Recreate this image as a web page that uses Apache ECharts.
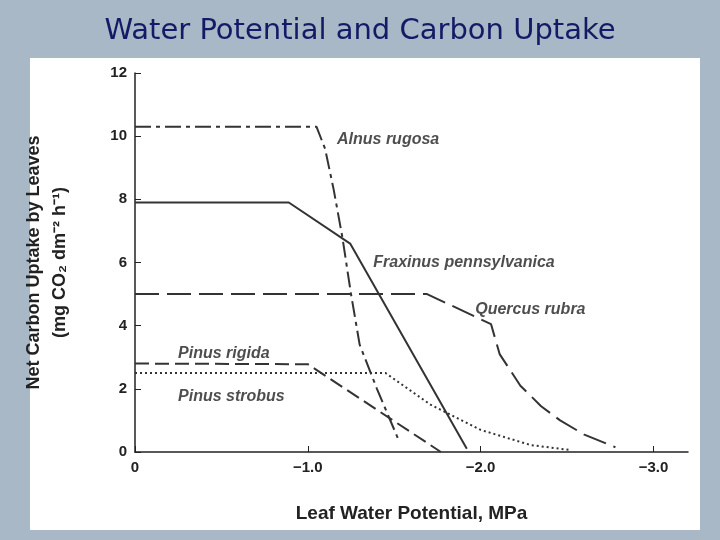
<!DOCTYPE html>
<html><head><meta charset="utf-8">
<script src="https://cdn.jsdelivr.net/npm/echarts@6/dist/echarts.min.js"></script>
<style>html,body{margin:0;padding:0;background:#a8b8c6}#c{width:720px;height:540px}</style>
</head><body><div id="c"></div>
<script>
const xTicks = [0, 1, 2, 3];
const xTickLabels = ['0', '\u22121.0', '\u22122.0', '\u22123.0'];
const alnus = [[0,10.3],[1.05,10.3],[1.1,9.6],[1.15,8.3],[1.2,6.8],[1.25,5.0],[1.3,3.4],[1.4,2.0],[1.52,0.45]];
const fraxinus = [[0,7.9],[0.89,7.9],[1.245,6.6],[1.92,0.1]];
const quercus = [[0,5.0],[1.69,5.0],[2.06,4.05],[2.11,3.1],[2.23,2.1],[2.35,1.45],[2.46,1.0],[2.6,0.55],[2.78,0.15]];
const rigida = [[0,2.8],[1.0,2.78],[1.77,0.0]];
const strobus = [[0,2.5],[1.45,2.5],[1.71,1.5],[2.0,0.7],[2.29,0.22],[2.52,0.06]];
const labelTexts = ['Alnus rugosa','Fraxinus pennsylvanica','Quercus rubra','Pinus rigida','Pinus strobus'];
const labelPos = [[1.14,9.9],[1.35,6.0],[1.94,4.5],[0.22,3.1],[0.22,1.75]];

const c = echarts.init(document.getElementById('c'));
const ls = (type, dash) => ({color:'#333', width:2, type: dash || type});
c.setOption({
  backgroundColor:'#a8b8c6',
  title:{text:'Water Potential and Carbon Uptake', left:'center', top:12,
    textStyle:{fontFamily:'DejaVu Sans', fontWeight:'normal', fontSize:29, color:'#141a66'}},
  graphic:[{type:'rect', z:-1, shape:{x:30,y:58,width:670,height:472}, style:{fill:'#fff'}}],
  grid:{left:135, right:32, top:73, bottom:88},
  xAxis:{type:'value', min:0, max:3.2, interval:1,
    axisLine:{lineStyle:{color:'#222', width:1.5}}, axisTick:{inside:true, length:6, lineStyle:{color:'#222'}},
    splitLine:{show:false},
    axisLabel:{color:'#222', fontWeight:'bold', fontSize:15, fontFamily:'Liberation Sans', showMaxLabel:false,
      formatter:v=>{const i=xTicks.indexOf(v); return i>=0?xTickLabels[i]:'';}},
    name:'Leaf Water Potential, MPa', nameLocation:'middle', nameGap:52,
    nameTextStyle:{color:'#222', fontWeight:'bold', fontSize:19, fontFamily:'Liberation Sans'}},
  yAxis:{type:'value', min:0, max:12, interval:2,
    axisLine:{show:true, lineStyle:{color:'#222', width:1.5}}, axisTick:{show:true, inside:true, length:6, lineStyle:{color:'#222'}},
    splitLine:{show:false},
    axisLabel:{color:'#222', fontWeight:'bold', fontSize:15, fontFamily:'Liberation Sans'},
    name:'Net Carbon Uptake by Leaves\n(mg CO\u2082 dm\u207B\u00B2 h\u207B\u00B9)', nameLocation:'middle', nameGap:62,
    nameTextStyle:{color:'#222', fontWeight:'bold', fontSize:18, lineHeight:26, fontFamily:'Liberation Sans'}},
  series:[
    {type:'line', data:alnus, symbol:'none', lineStyle:ls('dashed',[16,5,4,5])},
    {type:'line', data:fraxinus, symbol:'none', lineStyle:ls('solid')},
    {type:'line', data:quercus, symbol:'none', lineStyle:ls('dashed',[24,8])},
    {type:'line', data:rigida, symbol:'none', lineStyle:ls('dashed',[14,6])},
    {type:'line', data:strobus, symbol:'none', lineStyle:ls('dotted',[2,3])},
    {type:'scatter', symbolSize:0, data:labelPos.map((p,i)=>({value:p, name:labelTexts[i]})),
      label:{show:true, position:'right', formatter:p=>p.name, color:'#222', fontWeight:'bold', fontStyle:'italic',
        fontSize:16, fontFamily:'Liberation Sans'}}
  ]
});
</script></body></html>
